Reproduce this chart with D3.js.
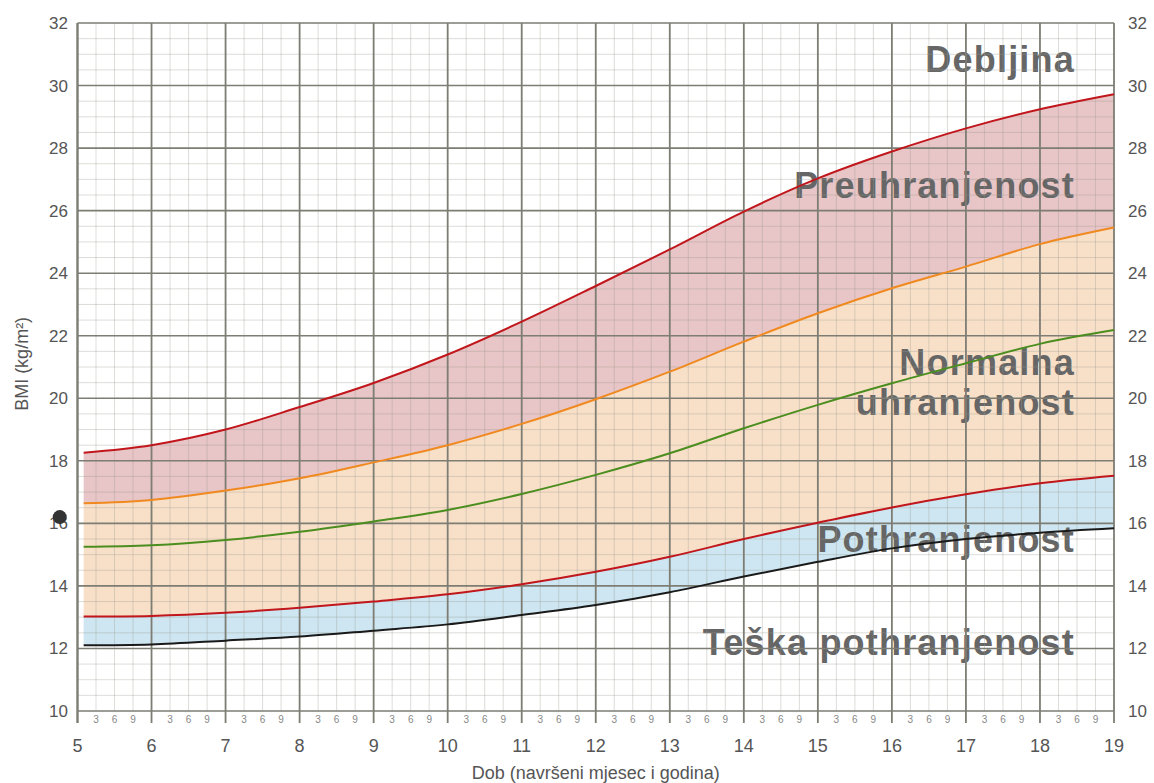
<!DOCTYPE html>
<html>
<head>
<meta charset="utf-8">
<script src="https://cdn.jsdelivr.net/npm/d3@7"></script>
<style>
  body { margin: 0; background: #fff; }
  svg { display: block; font-family: "Liberation Sans", Arial, sans-serif; }
</style>
</head>
<body>
<svg width="1154" height="783"></svg>
<script>
// age in years (curves start at 5 years 1 month)
const ages = [5.083, 6, 7, 8, 9, 10, 11, 12, 13, 14, 15, 16, 17, 18, 19];
const sdNeg3 = [12.1, 12.13, 12.25, 12.38, 12.57, 12.77, 13.07, 13.39, 13.8, 14.3, 14.77, 15.2, 15.5, 15.7, 15.84];
const sdNeg2 = [13.02, 13.04, 13.14, 13.3, 13.5, 13.73, 14.05, 14.45, 14.93, 15.5, 16.02, 16.51, 16.93, 17.28, 17.52];
const median = [15.25, 15.3, 15.47, 15.73, 16.06, 16.43, 16.94, 17.55, 18.24, 19.04, 19.79, 20.48, 21.12, 21.74, 22.18];
const sdPos1 = [16.64, 16.75, 17.05, 17.44, 17.95, 18.5, 19.18, 19.97, 20.85, 21.81, 22.72, 23.52, 24.21, 24.93, 25.46];
const sdPos2 = [18.26, 18.5, 19.0, 19.72, 20.49, 21.4, 22.45, 23.59, 24.76, 25.97, 27.03, 27.89, 28.63, 29.24, 29.72];

const yearTicks = d3.range(5, 20);
const bmiTicks = d3.range(10, 33, 2);
const monthLabels = ["3", "6", "9"];

// the single measurement point
const child = [{ age: 4.76, bmi: 16.2 }];

const zoneLabels = [
  { lines: ["Debljina"], bmi: 30.43 },
  { lines: ["Preuhranjenost"], bmi: 26.4 },
  { lines: ["Normalna", "uhranjenost"], bmi: 20.75 },
  { lines: ["Pothranjenost"], bmi: 15.08 },
  { lines: ["Teška pothranjenost"], bmi: 11.8 }
];

const svg = d3.select("svg");

const x = d3.scaleLinear().domain([5, 19]).range([77.5, 1114]);
const y = d3.scaleLinear().domain([10, 32]).range([711, 23]);

const rows = ages.map((a, i) => ({
  age: a, m3: sdNeg3[i], m2: sdNeg2[i], med: median[i], p1: sdPos1[i], p2: sdPos2[i]
}));

const curve = d3.curveCatmullRom;

// shaded bands
const band = (lo, hi) => d3.area().curve(curve)
  .x((d) => x(d.age)).y0((d) => y(d[lo])).y1((d) => y(d[hi]));

svg.append("path").datum(rows).attr("d", band("p1", "p2")).attr("fill", "#e8c5c6");
svg.append("path").datum(rows).attr("d", band("m2", "p1")).attr("fill", "#f8e0c8");
svg.append("path").datum(rows).attr("d", band("m3", "m2")).attr("fill", "#cde6f1");

// zone names (grid and curves go over them)
const labels = svg.append("g")
  .attr("font-weight", "bold")
  .attr("font-size", 36)
  .attr("letter-spacing", 1.2)
  .attr("fill", "#666")
  .attr("text-anchor", "end");

zoneLabels.forEach((z) => {
  z.lines.forEach((t, i) => {
    labels.append("text")
      .attr("x", 1075)
      .attr("y", y(z.bmi) + i * 40)
      .text(t);
  });
});

// grid
const grid = svg.append("g");

grid.selectAll(".vminor")
  .data(d3.range(5, 19.01, 0.25).filter((v) => Math.abs(v - Math.round(v)) > 0.01))
  .enter().append("line")
  .attr("x1", (d) => x(d)).attr("x2", (d) => x(d))
  .attr("y1", y(32)).attr("y2", y(10))
  .attr("stroke", "#9a9a92").attr("stroke-opacity", 0.35).attr("stroke-width", 1);

grid.selectAll(".hminor")
  .data(d3.range(10, 32.01, 0.5).filter((v) => v % 2 !== 0))
  .enter().append("line")
  .attr("x1", x(5)).attr("x2", x(19))
  .attr("y1", (d) => y(d)).attr("y2", (d) => y(d))
  .attr("stroke", "#9a9a92").attr("stroke-opacity", 0.35).attr("stroke-width", 1);

grid.selectAll(".hmajor")
  .data(bmiTicks)
  .enter().append("line")
  .attr("x1", x(5)).attr("x2", x(19))
  .attr("y1", (d) => y(d)).attr("y2", (d) => y(d))
  .attr("stroke", "#7d7d74").attr("stroke-width", 1.6);

grid.selectAll(".vmajor")
  .data(yearTicks)
  .enter().append("line")
  .attr("x1", (d) => x(d)).attr("x2", (d) => x(d))
  .attr("y1", y(32)).attr("y2", y(10) + 12)
  .attr("stroke", "#7d7d74").attr("stroke-width", (d) => (d === 5 ? 2.4 : 1.8));

// curves
const line = (key) => d3.line().curve(curve).x((d) => x(d.age)).y((d) => y(d[key]));
[
  { key: "m3", color: "#1a1a1a" },
  { key: "m2", color: "#c0161c" },
  { key: "med", color: "#4b8e1f" },
  { key: "p1", color: "#f0891f" },
  { key: "p2", color: "#c0161c" }
].forEach((s) => {
  svg.append("path").datum(rows)
    .attr("d", line(s.key))
    .attr("fill", "none")
    .attr("stroke", s.color)
    .attr("stroke-width", 2);
});

// axes labels
const axisText = svg.append("g").attr("fill", "#555");

axisText.selectAll(".yl")
  .data(bmiTicks)
  .enter().append("text")
  .attr("x", 68).attr("y", (d) => y(d) + 6)
  .attr("text-anchor", "end").attr("font-size", 17)
  .text((d) => d);

axisText.selectAll(".yr")
  .data(bmiTicks)
  .enter().append("text")
  .attr("x", 1128).attr("y", (d) => y(d) + 6)
  .attr("text-anchor", "start").attr("font-size", 17)
  .text((d) => d);

axisText.selectAll(".xl")
  .data(yearTicks)
  .enter().append("text")
  .attr("x", (d) => x(d)).attr("y", 752)
  .attr("text-anchor", "middle").attr("font-size", 18)
  .text((d) => d);

const monthPos = [];
yearTicks.slice(0, -1).forEach((yr) => {
  monthLabels.forEach((m, i) => monthPos.push({ age: yr + (i + 1) * 0.25, label: m }));
});

axisText.selectAll(".ml")
  .data(monthPos)
  .enter().append("text")
  .attr("x", (d) => x(d.age)).attr("y", 723)
  .attr("text-anchor", "middle").attr("font-size", 10).attr("fill", "#888")
  .text((d) => d.label);

axisText.append("text")
  .attr("x", (x(5) + x(19)) / 2).attr("y", 779)
  .attr("text-anchor", "middle").attr("font-size", 18)
  .text("Dob (navršeni mjesec i godina)");

axisText.append("text")
  .attr("transform", `translate(28,${y(21.1)}) rotate(-90)`)
  .attr("text-anchor", "middle").attr("font-size", 18)
  .text("BMI (kg/m²)");

// measurement point
svg.selectAll(".pt")
  .data(child)
  .enter().append("circle")
  .attr("cx", (d) => x(d.age)).attr("cy", (d) => y(d.bmi))
  .attr("r", 7).attr("fill", "#333");
</script>
</body>
</html>
